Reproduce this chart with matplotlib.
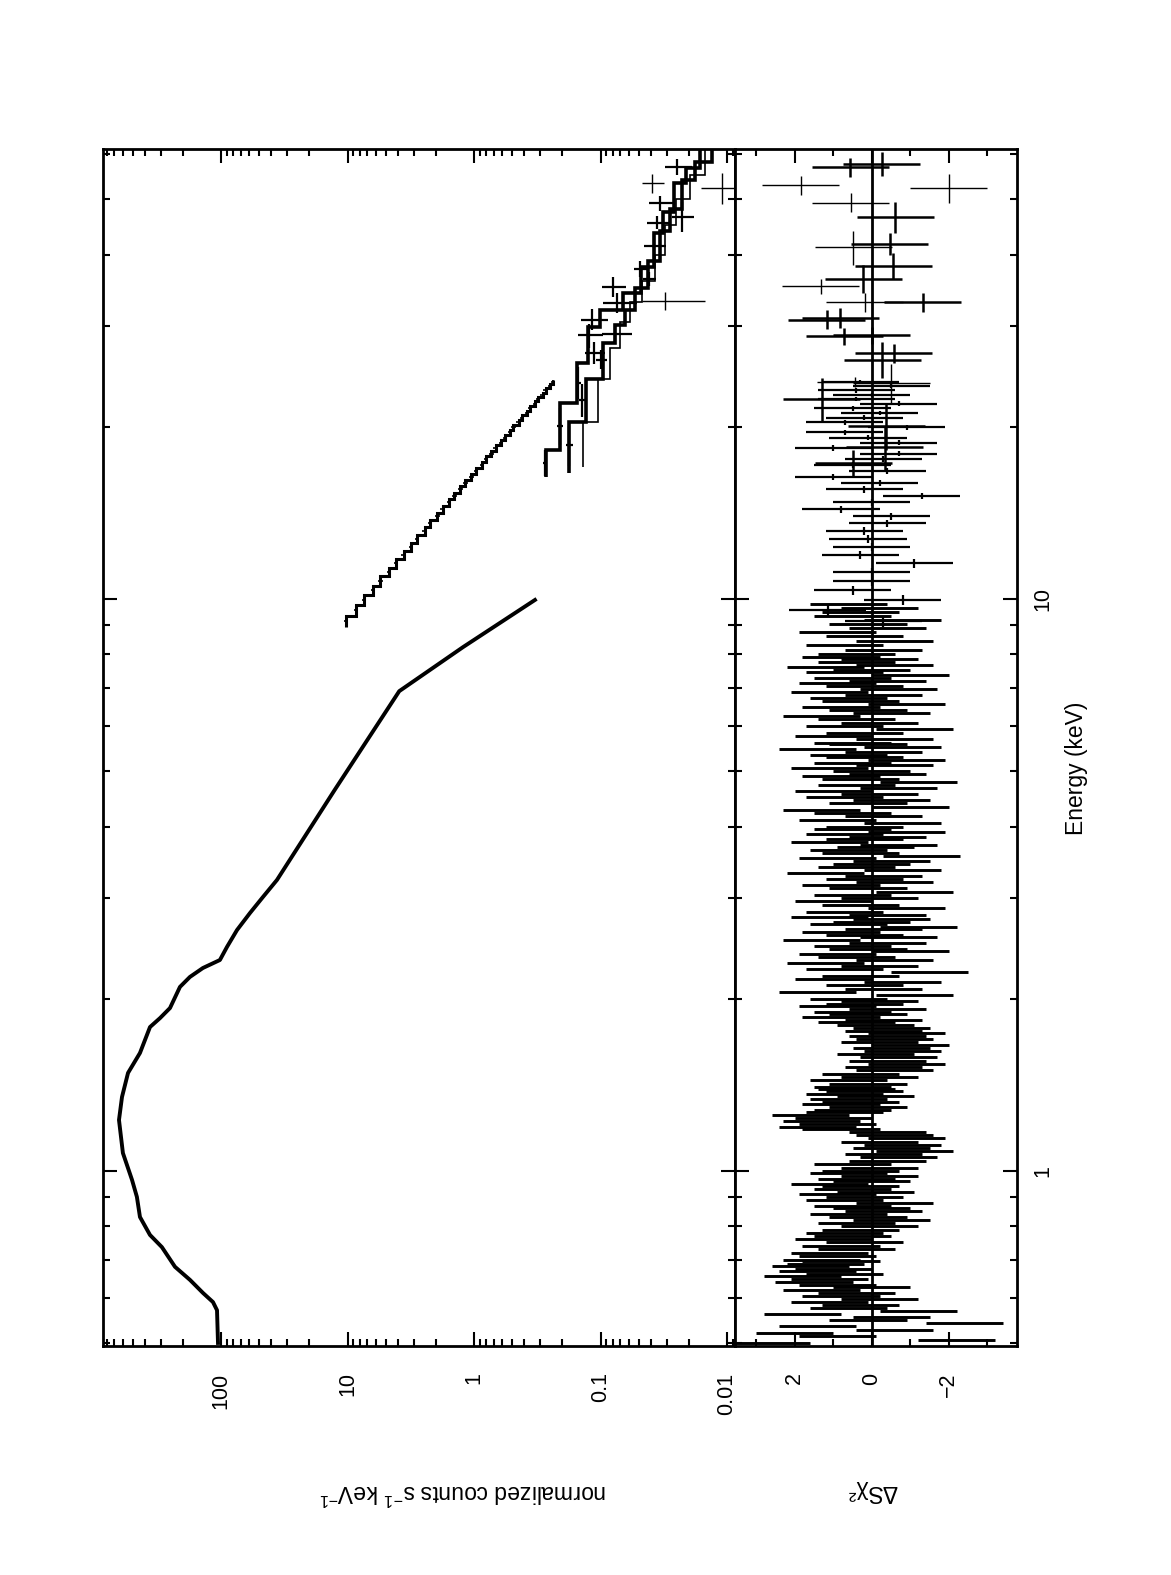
import matplotlib
matplotlib.use("Agg")
import matplotlib.pyplot as plt
from matplotlib.ticker import LogLocator, NullFormatter, FixedLocator
import numpy as np

plt.rcParams["font.family"] = ["Liberation Sans", "DejaVu Sans"]
plt.rcParams["mathtext.fontset"] = "custom"
plt.rcParams["mathtext.rm"] = "Liberation Sans"
plt.rcParams["mathtext.default"] = "regular"

# ---------------- data ----------------
# main (soft) spectrum, folded model/data curve: energy (keV), counts s-1 keV-1
soft_E = [0.5005, 0.571, 0.590, 0.612, 0.645, 0.680, 0.736, 0.773, 0.831, 0.901,
          0.965, 1.075, 1.228, 1.347, 1.484, 1.608, 1.785, 1.851, 1.927, 2.098,
          2.184, 2.264, 2.338, 2.464, 2.638, 2.825, 3.013, 3.227, 4.64, 6.9,
          8.24, 9.96]
soft_counts = [105.6, 107.5, 115.7, 138.7, 175.7, 231, 293, 364, 437, 462,
               505, 596, 640, 606, 543, 437, 364, 303, 253, 211,
               176, 139, 102, 89.7, 74.7, 59.0, 46.6, 36.1, 12.6, 3.9,
               1.22, 0.33]

# residual bins of the soft spectrum
soft_res_E = [0.500, 0.507, 0.514, 0.521, 0.528, 0.535, 0.542, 0.549, 0.556, 0.563,
              0.570, 0.577, 0.584, 0.591, 0.598, 0.605, 0.612, 0.619, 0.626, 0.633,
              0.640, 0.647, 0.654, 0.661, 0.668, 0.675, 0.682, 0.689, 0.696,
              0.70, 0.71, 0.72, 0.73, 0.74, 0.75, 0.76, 0.77, 0.78, 0.79,
              0.80, 0.81, 0.82, 0.83, 0.84, 0.85, 0.86, 0.87, 0.88, 0.89,
              0.90, 0.91, 0.92, 0.93, 0.94, 0.95, 0.96, 0.97, 0.98, 0.99,
              1.000, 1.014, 1.028, 1.042, 1.056, 1.070, 1.084, 1.098, 1.112, 1.126,
              1.140, 1.154, 1.168, 1.182, 1.196, 1.210, 1.224, 1.238, 1.252, 1.266,
              1.280, 1.294, 1.308, 1.322, 1.336, 1.350, 1.364, 1.378, 1.392,
              1.40, 1.42, 1.44, 1.46, 1.48, 1.50, 1.52, 1.54, 1.56, 1.58,
              1.60, 1.62, 1.64, 1.66, 1.68, 1.70, 1.72, 1.74, 1.76, 1.78,
              1.80, 1.82, 1.84, 1.86, 1.88, 1.90, 1.92, 1.94, 1.96, 1.98,
              2.000, 2.028, 2.056, 2.084, 2.112, 2.140, 2.168, 2.196, 2.224, 2.252,
              2.280, 2.308, 2.336, 2.364, 2.392, 2.420, 2.448, 2.476, 2.504, 2.532,
              2.560, 2.588, 2.616, 2.644, 2.672, 2.700, 2.728, 2.756, 2.784,
              2.80, 2.84, 2.88, 2.92, 2.96, 3.00, 3.04, 3.08, 3.12, 3.16,
              3.20, 3.24, 3.28, 3.32, 3.36, 3.40, 3.44, 3.48, 3.52, 3.56,
              3.60, 3.64, 3.68, 3.72, 3.76, 3.80, 3.84, 3.88, 3.92, 3.96,
              4.000, 4.056, 4.112, 4.168, 4.224, 4.280, 4.336, 4.392, 4.448, 4.504,
              4.560, 4.616, 4.672, 4.728, 4.784, 4.840, 4.896, 4.952, 5.008, 5.064,
              5.120, 5.176, 5.232, 5.288, 5.344, 5.400, 5.456, 5.512, 5.568,
              5.60, 5.68, 5.76, 5.84, 5.92, 6.00, 6.08, 6.16, 6.24, 6.32,
              6.40, 6.48, 6.56, 6.64, 6.72, 6.80, 6.88, 6.96, 7.04, 7.12,
              7.20, 7.28, 7.36, 7.44, 7.52, 7.60, 7.68, 7.76, 7.84, 7.92,
              8.00, 8.15, 8.30, 8.45, 8.60, 8.75, 8.90, 9.05, 9.20, 9.35,
              9.50, 9.65, 9.80]
soft_res = [2.6, -2.2, 0.9, 2.0, -0.6, 1.4, -2.4, 0.1, -0.5, 1.8,
            -1.2, 0.6, 0.3, 1.1, -0.2, 0.8, 0.4, 1.3, 0.0, 0.9,
            1.5, 1.1, 1.8, 0.7, 1.4, 1.0, 1.6, 1.2, 0.8,
            1.3, 0.9, 1.1, 0.4, 0.8, 0.2, 1.0, 0.5, 0.7, 0.3,
            -0.2, 0.4, -0.5, 0.1, 0.6, -0.3, 0.0, 0.5, -0.6, 0.7,
            0.2, 0.9, -0.1, 0.5, 0.3, 1.1, 0.0, 0.4, -0.2, 0.6,
            0.3, -0.2, 0.5, -0.4, -0.7, -0.3, -1.1, -0.5, -0.8, -0.2,
            -0.9, -0.6, -0.4, 0.8, 1.4, 0.9, 1.3, 1.0, 1.6, 0.7,
            0.5, 0.1, 0.8, 0.3, 0.6, -0.1, 0.7, 0.2, 0.4,
            0.5, 0.1, 0.6, -0.2, 0.3, -0.6, -0.3, -0.9, -0.4, -0.7,
            -0.1, -0.8, -0.5, -1.0, -0.2, -0.6, -0.4, -0.9, -0.3, -0.5,
            -0.1, 0.4, -0.3, 0.8, 0.1, 0.5, -0.4, 0.9, 0.2, -0.2,
            0.6, -1.1, 1.4, -0.3, 0.2, -0.8, 1.0, 0.3, -1.5, 0.7,
            -0.2, 1.2, -0.6, 0.4, 0.9, -1.0, 0.1, 0.5, -0.4, 1.3,
            -0.7, 0.2, 0.8, -0.3, -1.2, 0.6, 0.0, -0.5, 1.1,
            -0.4, 0.7, -0.9, 0.3, 1.0, -0.2, 0.5, -1.1, 0.1, 0.8,
            -0.6, 0.2, -0.3, 1.2, -0.8, 0.4, 0.0, -0.5, 0.9, -1.3,
            0.3, 0.6, -0.1, -0.7, 1.1, 0.2, -0.4, 0.7, -0.9, 0.5,
            0.2, -0.8, 0.9, -0.3, 0.5, 1.3, -1.0, 0.1, -0.5, 0.7,
            -0.2, 1.0, -0.7, 0.4, -1.2, 0.3, 0.8, -0.4, 0.0, 1.1,
            -0.6, 0.5, -0.9, 0.2, 0.6, -0.3, 1.4, -0.8, 0.1,
            0.5, -0.6, 1.0, 0.2, -1.1, 0.7, -0.2, 0.4, 1.3, -0.5,
            0.1, 0.8, -0.9, 0.3, 0.6, -0.3, 1.1, -0.7, 0.2, 0.9,
            -0.4, 0.5, -1.0, 0.7, 0.0, 1.2, -0.6, 0.4, -0.2, 0.8,
            0.4, -0.3, 0.7, -0.6, 0.2, 0.9, -0.4, 0.1, -0.8, 0.5,
            0.3, -0.2, 0.6]

# second spectrum (9-24 keV), bin edges and folded counts
mid_edges = [8.95, 9.35, 9.75, 10.15, 10.55, 10.95, 11.35, 11.75, 12.15, 12.55,
             12.95, 13.35, 13.75, 14.15, 14.55, 14.95, 15.35, 15.75, 16.15, 16.55,
             16.95, 17.35, 17.75, 18.15, 18.55, 18.95, 19.35, 19.75, 20.15, 20.55,
             20.95, 21.35, 21.75, 22.15, 22.55, 22.95, 23.35, 23.75, 24.15]
mid_counts = [10.3, 8.6, 7.45, 6.3, 5.5, 4.7, 4.15, 3.6, 3.15, 2.82,
              2.46, 2.22, 1.95, 1.77, 1.57, 1.43, 1.28, 1.17, 1.05, 0.965,
              0.87, 0.805, 0.73, 0.675, 0.612, 0.57, 0.52, 0.488, 0.445, 0.418,
              0.382, 0.36, 0.331, 0.312, 0.287, 0.272, 0.251, 0.238]
mid_res = [-0.3, 1.15, -0.8, 0.5, 0.0, 0.0, -1.1, 0.3, 0.0, 0.1,
           0.2, -0.4, -0.5, 0.8, 0.0, -1.3, 0.2, -0.2, 1.0, -0.4,
           0.5, -0.3, -0.7, 1.0, -0.7, 0.1, 0.7, -0.9, 0.7, 0.2,
           -0.2, 0.5, -0.7, 0.4, 0.0, 0.4, -0.5, 0.3]

# hard X-ray models (step lines)
hardA_edges = [16.35, 18.2, 22.0, 25.85, 29.9, 32.0, 34.3, 38.1, 43.7, 47.5, 53.3, 56.6, 61.5]
hardA_model = [0.271, 0.209, 0.154, 0.126, 0.101, 0.067, 0.048, 0.038, 0.032, 0.0265, 0.0213, 0.0163]
hardB_edges = [16.6, 20.4, 24.2, 28.0, 30.1, 32.0, 35.0, 39.0, 44.0, 48.0, 54.0, 58.0, 61.5]
hardB_model = [0.177, 0.131, 0.0955, 0.0767, 0.064, 0.0533, 0.0421, 0.0339, 0.0282, 0.0227, 0.0179, 0.0131]
hardC_edges = [17.0, 20.4, 24.2, 27.5, 30.5, 33.0, 36.0, 40.0, 45.0, 50.0, 55.0, 61.5]
hardC_model = [0.1374, 0.1047, 0.0841, 0.0702, 0.0585, 0.047, 0.037, 0.0309, 0.0253, 0.0196, 0.0149]

# hard X-ray data points
hard_E = [57.0, 49.2, 46.6, 45.5, 41.4, 37.8, 36.3, 35.1, 32.9, 30.8,
          29.1, 28.9, 26.9, 26.2, 23.9, 22.3, 20.1, 18.6, 17.3]
hard_dE = [1.8, 1.5, 2.75, 1.2, 2.0, 1.2, 1.0, 1.4, 1.3, 1.3,
           1.2, 1.4, 1.2, 1.0, 1.5, 1.5, 1.5, 1.5, 0.9]
hard_c = [0.0250, 0.0339, 0.0228, 0.0357, 0.0378, 0.0488, 0.0414, 0.0801, 0.0736, 0.116,
          0.0767, 0.1228, 0.1125, 0.0995, 0.1496, 0.141, 0.209, 0.1766, 0.275]
hard_dc = [0.0062, 0.0074, 0.0044, 0.0070, 0.0075, 0.0060, 0.0050, 0.0170, 0.0220, 0.028,
           0.020, 0.028, 0.020, 0.010, 0.008, 0.008, 0.010, 0.010, 0.012]
thin_E = [53.3, 52.3, 33.2]
thin_dE = [2.1, 3.2, 1.2]
thin_c = [0.0394, 0.0110, 0.0309]
thin_dc = [0.0077, 0.0050, 0.0160]

# hard X-ray residuals
hres_E = [57.7, 56.8, 46.6, 41.8, 38.2, 36.3, 33.0, 30.8, 31.0, 28.8,
          26.9, 26.2, 22.4, 17.3, 20.1, 18.4, 28.9]
hres_dE = [2.8, 2.1, 2.9, 1.9, 2.0, 2.0, 1.2, 1.2, 1.2, 1.0,
           1.0, 1.9, 1.9, 0.9, 1.9, 1.6, 1.0]
hres = [-0.26, 0.56, -0.61, -0.46, -0.56, 0.22, -1.32, 1.17, 0.82, 0.72,
        -0.57, -0.27, 1.3, 0.48, -0.37, -0.33, 0.0]
hres_thin_E = [52.9, 52.3, 49.3, 41.2, 35.2, 33.0, 23.9, 23.95]
hres_thin_dE = [2.0, 3.1, 1.9, 2.8, 1.1, 1.2, 1.9, 0.5]
hres_thin = [1.84, -2.0, 0.55, 0.48, 1.33, 0.19, -0.51, 0.43]

count_ticks = [0.01, 0.1, 1, 10, 100]
count_labels = ["0.01", "0.1", "1", "10", "100"]
res_ticks = [-2, 0, 2]
res_labels = ["\u22122", "0", "2"]

# ---------------- figure (drawn rotated, energy runs upward) ----------------
fig = plt.figure(figsize=(11.71, 15.75), dpi=100)
ax1 = fig.add_axes([0.0883, 0.1454, 0.5394, 0.7603])
ax2 = fig.add_axes([0.6277, 0.1454, 0.2412, 0.7603], sharey=ax1)

ax1.set_xscale("log")
ax1.set_yscale("log")
ax1.set_xlim(850, 0.00865)
ax1.set_ylim(0.4944, 61.3)
ax2.set_xlim(3.55, -3.78)

# upper panel
ax1.plot(soft_counts, soft_E, color="k", lw=2.8, solid_joinstyle="round")

mid_centers = [(a + b) / 2 for a, b in zip(mid_edges[:-1], mid_edges[1:])]
ax1.stairs(mid_counts, mid_edges, orientation="horizontal", baseline=None,
           color="k", lw=2.2)
ax1.errorbar(mid_counts, mid_centers, xerr=np.array(mid_counts) * 0.04, yerr=0.2,
             fmt="none", ecolor="k", elinewidth=1.2)

ax1.stairs(hardA_model, hardA_edges, orientation="horizontal", baseline=None, color="k", lw=2.6)
ax1.stairs(hardB_model, hardB_edges, orientation="horizontal", baseline=None, color="k", lw=2.6)
ax1.stairs(hardC_model, hardC_edges, orientation="horizontal", baseline=None, color="k", lw=1.2)
ax1.errorbar(hard_c, hard_E, xerr=hard_dc, yerr=hard_dE, fmt="none", ecolor="k", elinewidth=1.6)
ax1.errorbar(thin_c, thin_E, xerr=thin_dc, yerr=thin_dE, fmt="none", ecolor="k", elinewidth=1.0)

# residual panel
ax2.errorbar(soft_res, soft_res_E, xerr=1.0, fmt="none", ecolor="k", elinewidth=2.1)
ax2.errorbar(mid_res, mid_centers, xerr=1.0, yerr=0.2, fmt="none", ecolor="k", elinewidth=1.6)
ax2.errorbar(hres, hres_E, xerr=1.0, yerr=hres_dE, fmt="none", ecolor="k", elinewidth=1.8)
ax2.errorbar(hres_thin, hres_thin_E, xerr=1.0, yerr=hres_thin_dE, fmt="none", ecolor="k", elinewidth=1.0)
ax2.axvline(0, color="k", lw=2.0)

# ticks
ax1.xaxis.set_major_locator(FixedLocator(count_ticks))
ax1.set_xticklabels(count_labels)
ax1.xaxis.set_minor_locator(LogLocator(base=10, subs=np.arange(2, 10), numticks=20))
ax1.xaxis.set_minor_formatter(NullFormatter())
ax1.yaxis.set_major_locator(FixedLocator([1, 10]))
ax1.set_yticklabels(["1", "10"])
ax1.yaxis.set_minor_locator(LogLocator(base=10, subs=np.arange(2, 10), numticks=20))
ax1.yaxis.set_minor_formatter(NullFormatter())

ax2.xaxis.set_major_locator(FixedLocator(res_ticks))
ax2.set_xticklabels(res_labels)
ax2.xaxis.set_minor_locator(FixedLocator([-3, -1, 1, 3]))

for ax in (ax1, ax2):
    ax.tick_params(which="both", direction="in", top=True, bottom=True,
                   left=True, right=True, width=1.5, colors="k")
    ax.tick_params(which="major", length=10)
    ax.tick_params(which="minor", length=5)
    ax.tick_params(axis="x", labelrotation=90, pad=19, labelsize=15.5)
    for s in ax.spines.values():
        s.set_linewidth(2.0)

ax1.tick_params(axis="y", labelleft=False, labelright=False)
ax2.tick_params(axis="y", labelleft=False, labelright=True, labelrotation=90,
                pad=11, labelsize=15.5)
for lbl in ax2.get_yticklabels():
    lbl.set_va("center")

fig.text(0.3954, 0.053, r"normalized counts s$^{-1}$ keV$^{-1}$", rotation=180,
         ha="center", va="center", fontsize=16.5)
fig.text(0.7447, 0.053, "\u0394S\u03c7\u00b2", rotation=180,
         ha="center", va="center", fontsize=16.5)
fig.text(0.9189, 0.5124, "Energy (keV)", rotation=90,
         ha="center", va="center", fontsize=16.5)

fig.savefig("out.png", dpi=100, facecolor="white")
